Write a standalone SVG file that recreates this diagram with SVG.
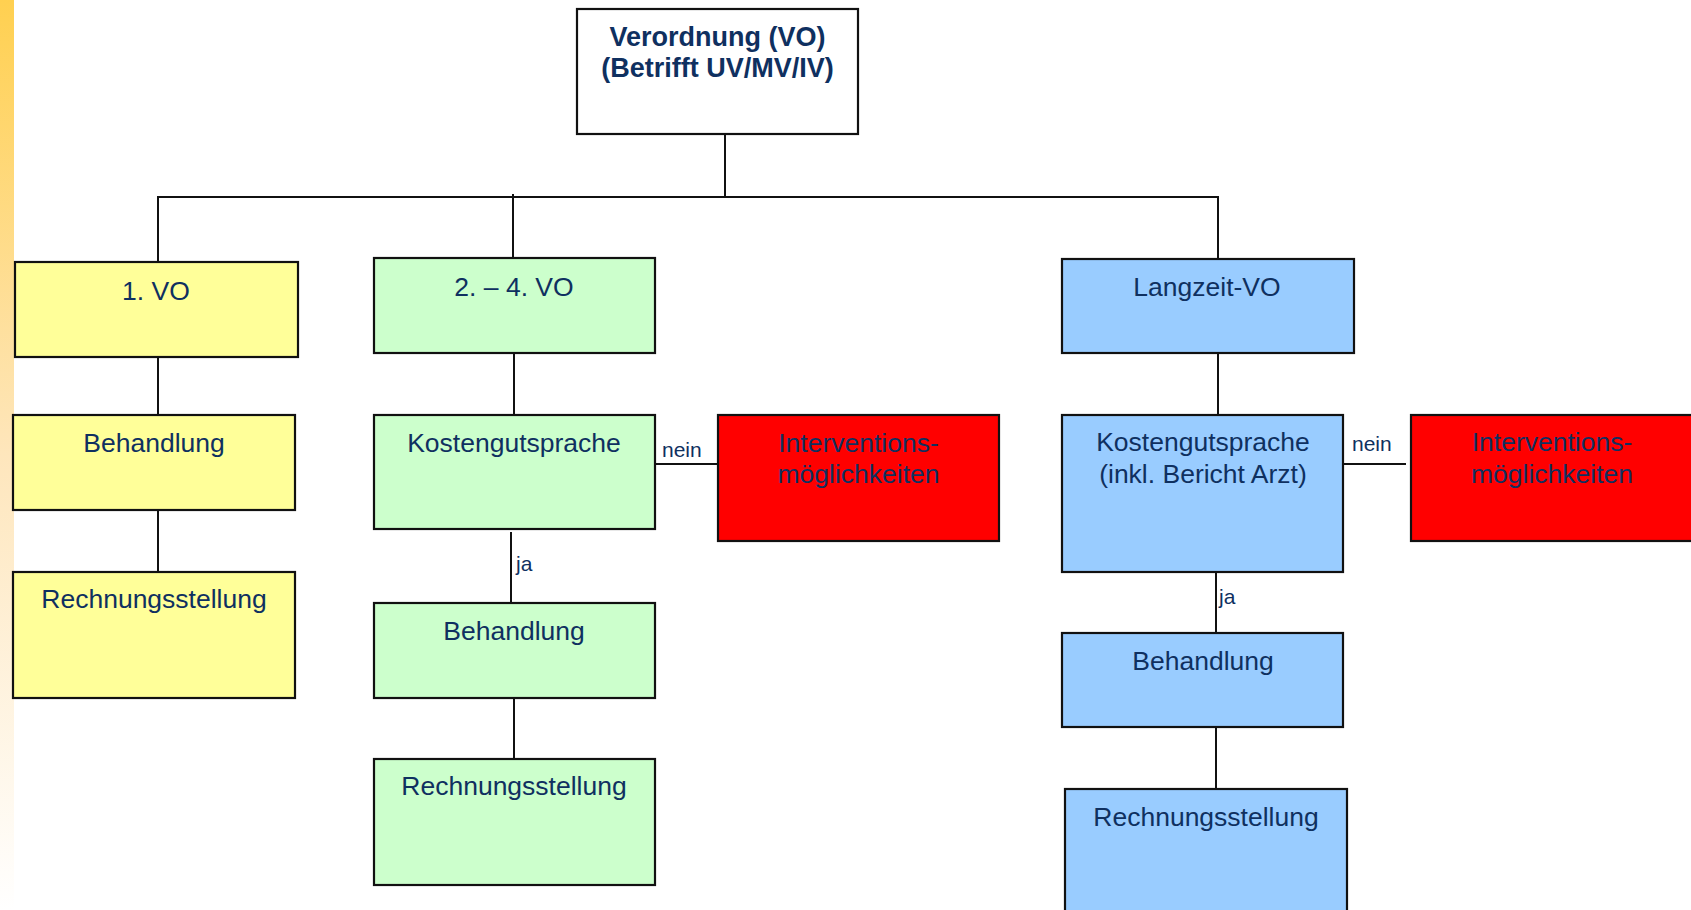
<svg xmlns="http://www.w3.org/2000/svg" width="1691" height="910" viewBox="0 0 1691 910">
<defs>
<linearGradient id="strip" x1="0" y1="0" x2="0" y2="1">
<stop offset="0" stop-color="#FFD050"/>
<stop offset="0.5" stop-color="#FEE6BC"/>
<stop offset="1" stop-color="#FFFFFF"/>
</linearGradient>
</defs>
<style>
.box{stroke:#111;stroke-width:2.2}
.w{fill:#FFFFFF}.y{fill:#FFFF99}.g{fill:#CCFFCC}.b{fill:#99CCFF}.r{fill:#FF0000}
text{font-family:"Liberation Sans",Arial,sans-serif;font-size:26.5px;fill:#0F3060;text-anchor:middle}
.t{font-weight:bold;font-size:27px}
.lbl{font-size:21px;text-anchor:start}
.c line{stroke:#111;stroke-width:2}
</style>
<rect x="0" y="0" width="1691" height="910" fill="#FFFFFF"/>
<rect x="0" y="0" width="14" height="910" fill="url(#strip)"/>
<g class="c" id="connectors">
<line x1="725" y1="134" x2="725" y2="197"/>
<line x1="157" y1="197" x2="1219" y2="197"/>
<line x1="158" y1="196" x2="158" y2="262"/>
<line x1="513" y1="194" x2="513" y2="258"/>
<line x1="1218" y1="196" x2="1218" y2="259"/>
<line x1="158" y1="357" x2="158" y2="415"/>
<line x1="158" y1="510" x2="158" y2="572"/>
<line x1="514" y1="353" x2="514" y2="415"/>
<line x1="655" y1="464" x2="718" y2="464"/>
<line x1="511" y1="532" x2="511" y2="606"/>
<line x1="514" y1="698" x2="514" y2="759"/>
<line x1="1218" y1="353" x2="1218" y2="415"/>
<line x1="1343" y1="464" x2="1406" y2="464"/>
<line x1="1216" y1="572" x2="1216" y2="634"/>
<line x1="1216" y1="727" x2="1216" y2="789"/>
<text class="lbl" x="662" y="457">nein</text>
<text class="lbl" x="516" y="571">ja</text>
<text class="lbl" x="1352" y="451">nein</text>
<text class="lbl" x="1219" y="604">ja</text>
</g>
<g id="n-vo">
<rect class="box w" x="577" y="9" width="281" height="125"/>
<text class="t" x="717.5" y="46">Verordnung (VO)</text>
<text class="t" x="717.5" y="77">(Betrifft UV/MV/IV)</text>
</g>
<g id="n-1vo">
<rect class="box y" x="15" y="262" width="283" height="95"/>
<text x="156" y="300">1. VO</text>
</g>
<g id="n-y-beh">
<rect class="box y" x="13" y="415" width="282" height="95"/>
<text x="154" y="452">Behandlung</text>
</g>
<g id="n-y-rech">
<rect class="box y" x="13" y="572" width="282" height="126"/>
<text x="154" y="608">Rechnungsstellung</text>
</g>
<g id="n-24vo">
<rect class="box g" x="374" y="258" width="281" height="95"/>
<text x="514" y="296">2. – 4. VO</text>
</g>
<g id="n-g-kost">
<rect class="box g" x="374" y="415" width="281" height="114"/>
<text x="514" y="452">Kostengutsprache</text>
</g>
<g id="n-int1">
<rect class="box r" x="718" y="415" width="281" height="126"/>
<text x="858.5" y="452">Interventions-</text>
<text x="858.5" y="483">möglichkeiten</text>
</g>
<g id="n-g-beh">
<rect class="box g" x="374" y="603" width="281" height="95"/>
<text x="514" y="640">Behandlung</text>
</g>
<g id="n-g-rech">
<rect class="box g" x="374" y="759" width="281" height="126"/>
<text x="514" y="795">Rechnungsstellung</text>
</g>
<g id="n-lang">
<rect class="box b" x="1062" y="259" width="292" height="94"/>
<text x="1207" y="296">Langzeit-VO</text>
</g>
<g id="n-b-kost">
<rect class="box b" x="1062" y="415" width="281" height="157"/>
<text x="1203" y="451">Kostengutsprache</text>
<text x="1203" y="483">(inkl. Bericht Arzt)</text>
</g>
<g id="n-int2">
<rect class="box r" x="1411" y="415" width="282" height="126"/>
<text x="1552" y="451">Interventions-</text>
<text x="1552" y="483">möglichkeiten</text>
</g>
<g id="n-b-beh">
<rect class="box b" x="1062" y="633" width="281" height="94"/>
<text x="1203" y="670">Behandlung</text>
</g>
<g id="n-b-rech">
<rect class="box b" x="1065" y="789" width="282" height="135"/>
<text x="1206" y="826">Rechnungsstellung</text>
</g>
</svg>
